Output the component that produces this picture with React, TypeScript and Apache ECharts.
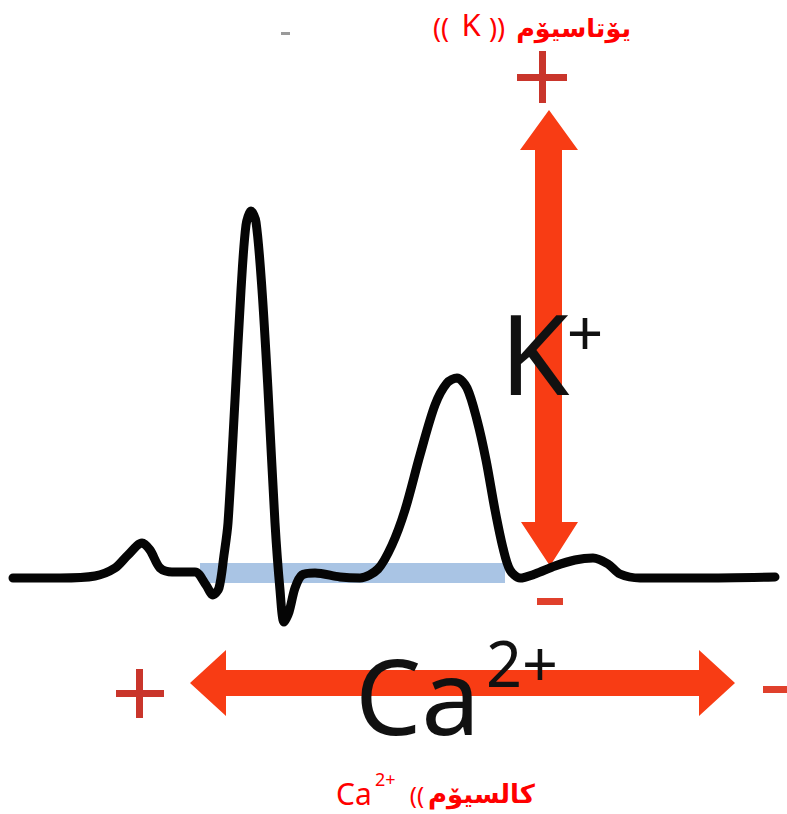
import React, { useEffect, useRef } from "react";
import * as echarts from "echarts";

// ECG trace: time (arbitrary ms) and amplitude (mV-like units)
const timeMs = [
  13, 60, 95, 115, 128, 142, 150, 160, 172, 195, 206, 213, 219, 224, 228, 235, 241, 246, 251, 256,
  262, 268, 275, 280, 284, 289, 295, 302, 315, 340, 360, 378, 392, 405, 420, 435, 447, 457, 467,
  477, 486, 495, 503, 510, 520, 535, 555, 575, 593, 608, 620, 640, 700, 775,
];
const amplitude = [
  -0.01, -0.01, 0.01, 0.09, 0.22, 0.34, 0.27, 0.09, 0.05, 0.05, -0.08, -0.18, -0.11, 0.22, 0.54,
  1.77, 2.87, 3.52, 3.66, 3.55, 2.87, 1.87, 0.54, -0.13, -0.45, -0.35, -0.11, 0.02, 0.04, 0.0,
  -0.01, 0.08, 0.32, 0.67, 1.22, 1.72, 1.94, 1.99, 1.89, 1.57, 1.17, 0.67, 0.29, 0.07, -0.01, 0.03,
  0.11, 0.17, 0.19, 0.13, 0.03, -0.01, -0.01, 0.0,
];

// Shaded isoelectric band (QT interval)
const bandTime = [200, 505];
const bandAmp = [0.14, -0.06];

// Labels
const topWord = "يۆتاسيۆم";
const topSymbol = "K";
const bottomWord = "كالسيۆم";
const bottomSymbol = "Ca";
const bottomCharge = "2+";
const potassiumLabel = "K";
const potassiumCharge = "+";
const calciumLabel = "Ca";
const calciumCharge = "2+";

export default function App() {
  const ref = useRef<HTMLDivElement>(null);

  useEffect(() => {
    document.body.style.margin = "0";
    if (!ref.current) return;
    const chart = echarts.init(ref.current, undefined, { renderer: "svg" });
    const red = "#f83c14";
    const darkRed = "#c9352b";
    const brightRed = "#ff0000";
    const data = timeMs.map((t, i) => [t, amplitude[i]]);

    chart.setOption({
      animation: false,
      backgroundColor: "#ffffff",
      grid: { left: 0, right: 0, top: 0, bottom: 0 },
      xAxis: { type: "value", min: 0, max: 787, show: false },
      yAxis: { type: "value", min: -2.37, max: 5.77, show: false },
      graphic: [
        // vertical double arrow (K+)
        {
          type: "polygon",
          shape: {
            points: [
              [549, 110], [578, 150], [562, 150], [562, 522], [578, 522],
              [550, 566], [521, 522], [535, 522], [535, 150], [520, 150],
            ],
          },
          style: { fill: red },
        },
        // horizontal double arrow (Ca2+)
        {
          type: "polygon",
          shape: {
            points: [
              [190, 683], [226, 650], [226, 670], [699, 670], [699, 650],
              [735, 683], [699, 716], [699, 696], [226, 696], [226, 716],
            ],
          },
          style: { fill: red },
        },
        // plus / minus signs
        { type: "rect", shape: { x: 517, y: 74, width: 50, height: 7 }, style: { fill: darkRed } },
        { type: "rect", shape: { x: 539, y: 51, width: 7, height: 52 }, style: { fill: darkRed } },
        { type: "rect", shape: { x: 116, y: 690, width: 48, height: 7 }, style: { fill: darkRed } },
        { type: "rect", shape: { x: 136, y: 669, width: 7, height: 49 }, style: { fill: darkRed } },
        { type: "rect", shape: { x: 763, y: 686, width: 24, height: 7 }, style: { fill: "#e0402c" } },
        { type: "rect", shape: { x: 537, y: 598, width: 26, height: 7 }, style: { fill: "#e0402c" } },
        { type: "rect", shape: { x: 281, y: 32, width: 9, height: 3 }, style: { fill: "#9a9a9a" } },
        // K+ label
        {
          type: "text",
          x: 500,
          y: 351,
          style: {
            text: potassiumLabel, fill: "#111", fontSize: 112, fontFamily: "Noto Sans",
            textAlign: "left", textVerticalAlign: "middle",
          },
        },
        {
          type: "text",
          x: 585,
          y: 331,
          style: {
            text: potassiumCharge, fill: "#111", fontSize: 64, fontFamily: "Noto Sans",
            textAlign: "center", textVerticalAlign: "middle",
          },
        },
        // Ca2+ label
        {
          type: "text",
          x: 355,
          y: 694,
          style: {
            text: calciumLabel, fill: "#111", fontSize: 105, fontFamily: "Noto Sans",
            textAlign: "left", textVerticalAlign: "middle",
          },
        },
        {
          type: "text",
          x: 486,
          y: 662,
          style: {
            text: calciumCharge, fill: "#111", fontSize: 63, fontFamily: "Noto Sans",
            textAlign: "left", textVerticalAlign: "middle",
          },
        },
        // top title
        {
          type: "text", x: 631, y: 28,
          style: {
            text: topWord, fill: brightRed, fontSize: 25.5, fontWeight: "bold", fontFamily: "DejaVu Sans",
            textAlign: "right", textVerticalAlign: "middle",
          },
        },
        {
          type: "text", x: 441, y: 27,
          style: { text: "((", fill: brightRed, fontSize: 27, fontFamily: "Noto Sans", textAlign: "center", textVerticalAlign: "middle" },
        },
        {
          type: "text", x: 471, y: 24,
          style: { text: topSymbol, fill: brightRed, fontSize: 31, fontFamily: "Noto Sans", textAlign: "center", textVerticalAlign: "middle" },
        },
        {
          type: "text", x: 497, y: 27,
          style: { text: "))", fill: brightRed, fontSize: 27, fontFamily: "Noto Sans", textAlign: "center", textVerticalAlign: "middle" },
        },
        // bottom title
        {
          type: "text", x: 336, y: 793,
          style: { text: bottomSymbol, fill: brightRed, fontSize: 30, fontFamily: "Noto Sans", textAlign: "left", textVerticalAlign: "middle" },
        },
        {
          type: "text", x: 375, y: 779,
          style: { text: bottomCharge, fill: brightRed, fontSize: 18, fontFamily: "Noto Sans", textAlign: "left", textVerticalAlign: "middle" },
        },
        {
          type: "text", x: 417, y: 794,
          style: { text: "((", fill: brightRed, fontSize: 24, fontFamily: "Noto Sans", textAlign: "center", textVerticalAlign: "middle" },
        },
        {
          type: "text", x: 535, y: 794,
          style: {
            text: bottomWord, fill: brightRed, fontSize: 26, fontWeight: "bold", fontFamily: "DejaVu Sans",
            textAlign: "right", textVerticalAlign: "middle",
          },
        },
      ],
      series: [
        {
          type: "line",
          data,
          smooth: 0.3,
          symbol: "none",
          z: 5,
          lineStyle: { color: "#050505", width: 9, cap: "round", join: "round" },
          markArea: {
            silent: true,
            itemStyle: { color: "#a9c4e4", opacity: 1 },
            data: [[{ xAxis: bandTime[0], yAxis: bandAmp[0] }, { xAxis: bandTime[1], yAxis: bandAmp[1] }]],
          },
        },
      ],
    });

    return () => chart.dispose();
  }, []);

  return <div ref={ref} style={{ width: 787, height: 814 }} />;
}
